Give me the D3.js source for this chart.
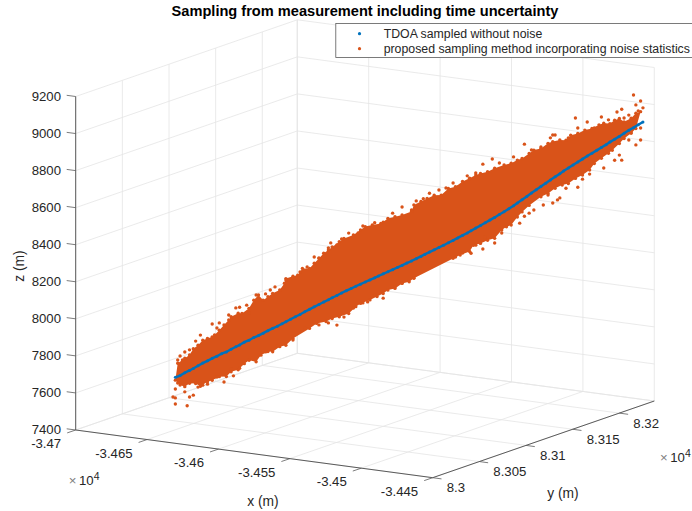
<!DOCTYPE html>
<html>
<head>
<meta charset="utf-8">
<script src="https://cdn.jsdelivr.net/npm/d3@7"></script>
<style>
  html, body { margin: 0; padding: 0; background: #fff; overflow: hidden; }
  text { font-family: "Liberation Sans", Helvetica, Arial, sans-serif; fill: #262626; }
</style>
</head>
<body>
<svg id="chart" width="692" height="511"></svg>
<script>
const xLim = [-34700, -34450];
const yLim = [83000, 83237.5];
const zLim = [7400, 9200];

const xTicks = [-34700, -34650, -34600, -34550, -34500, -34450];
const yTicks = [83000, 83050, 83100, 83150, 83200];
const zTicks = [7400, 7600, 7800, 8000, 8200, 8400, 8600, 8800, 9000, 9200];
const xTickLabels = ['-3.47', '-3.465', '-3.46', '-3.455', '-3.45', '-3.445'];
const yTickLabels = ['8.3', '8.305', '8.31', '8.315', '8.32'];
const seriesNames = ['TDOA sampled without noise', 'proposed sampling method incorporating noise statistics'];

// blue track
const tdoaX = [-34657,-34655,-34653,-34651,-34649,-34647,-34645,-34643,-34641,-34639,-34637,-34635,-34633,-34631,-34629,-34627,-34625,-34623,-34621,-34619,-34617,-34615,-34613,-34611,-34609,-34607,-34605,-34603,-34601,-34599,-34597,-34595,-34593,-34591,-34589,-34587,-34585,-34583,-34581,-34579,-34577,-34575,-34573,-34571,-34569,-34567,-34565,-34563,-34561,-34559,-34557,-34555,-34553,-34551,-34549,-34547,-34545,-34543,-34541,-34539,-34537,-34535,-34533,-34531,-34529,-34527,-34525,-34523,-34521,-34519,-34517,-34515,-34513,-34511,-34509,-34507,-34505,-34503,-34501,-34499,-34497,-34495,-34493,-34491,-34489,-34487,-34485,-34483,-34481,-34479,-34477,-34475,-34473,-34471,-34469,-34467,-34465,-34463,-34461,-34459,-34457,-34455];
const tdoaY = [83041,83043,83045,83047,83048,83050,83052,83054,83056,83058,83060,83062,83064,83066,83067,83069,83071,83073,83075,83077,83079,83081,83083,83085,83086,83088,83090,83092,83094,83096,83098,83100,83102,83104,83105,83107,83109,83111,83113,83115,83117,83119,83121,83123,83124,83126,83128,83130,83132,83134,83136,83138,83140,83142,83143,83145,83147,83149,83151,83153,83155,83157,83159,83161,83162,83164,83166,83168,83170,83172,83174,83176,83178,83180,83181,83183,83185,83187,83189,83191,83193,83195,83197,83199,83200,83202,83204,83206,83208,83210,83212,83214,83216,83218,83219,83221,83223,83225,83227,83229,83231,83233];
const tdoaZ = [7657,7665,7679,7690,7701,7714,7727,7738,7750,7760,7772,7780,7793,7805,7815,7829,7838,7851,7860,7872,7884,7895,7905,7917,7928,7940,7952,7963,7976,7988,8000,8011,8023,8034,8045,8056,8068,8079,8089,8100,8110,8120,8130,8140,8150,8160,8170,8180,8190,8200,8211,8221,8232,8243,8254,8265,8276,8287,8298,8310,8321,8333,8345,8357,8369,8382,8395,8408,8421,8434,8448,8462,8476,8491,8506,8522,8539,8556,8572,8588,8604,8620,8636,8651,8666,8681,8696,8711,8725,8740,8754,8768,8782,8796,8810,8824,8838,8853,8868,8881,8895,8909];

// orange cloud is too dense to read single samples: its rough upper and lower rim instead
const rimTopX = [
  -34656,-34654,-34653,-34651,-34649,-34647,-34645,-34643,-34641,-34640,-34638,-34636,-34634,-34633,-34630,-34628,-34625,-34623,-34621,-34619,-34617,-34615,-34612,-34610,
  -34609,-34606,-34604,-34602,-34599,-34597,-34595,-34593,-34591,-34589,-34586,-34584,-34580,-34577,-34575,-34572,-34568,-34565,-34562,-34559,-34555,
  -34554,-34551,-34548,-34545,-34542,-34539,-34536,-34533,-34530,-34527,-34525,-34522,-34519,-34515,-34512,-34509,-34507,-34504,
  -34502,-34499,-34496,-34494,-34491,-34488,-34486,-34483,-34480,-34477,-34474,-34472,-34469,-34467,-34465,-34463,-34460,-34458,-34456];
const rimTopY = [
  83042,83044,83045,83047,83048,83050,83052,83054,83056,83057,83059,83061,83063,83064,83067,83068,83071,83073,83075,83077,83079,83081,83084,83086,
  83086,83089,83091,83093,83096,83098,83100,83102,83104,83105,83108,83110,83114,83117,83119,83122,83125,83128,83131,83134,83138,
  83139,83142,83144,83147,83150,83153,83156,83159,83162,83164,83166,83169,83172,83176,83179,83181,83183,83186,
  83188,83191,83194,83196,83199,83201,83203,83206,83209,83212,83215,83217,83219,83221,83223,83225,83228,83230,83232];
const rimTopZ = [
  7732,7749,7757,7773,7808,7825,7851,7859,7866,7875,7900,7926,7952,7969,7986,7984,8010,8053,8079,8050,8067,8084,8100,8135,
  8161,8172,8176,8211,8209,8235,8260,8286,8303,8319,8345,8361,8377,8402,8419,8426,8433,8458,8465,8472,8488,
  8523,8539,8555,8571,8569,8603,8610,8636,8652,8668,8675,8682,8699,8714,8721,8738,8745,8770,
  8787,8794,8819,8827,8834,8832,8858,8865,8881,8888,8905,8912,8910,8927,8935,8915,8932,8958,8965];
const rimBottomX = [
  -34657,-34655,-34653,-34651,-34648,-34646,-34643,-34641,-34638,-34635,-34633,-34630,-34627,-34625,-34622,-34620,-34617,-34615,-34612,-34609,-34606,
  -34599,-34596,-34592,-34589,-34586,-34582,-34579,-34577,-34573,-34570,-34567,-34565,-34562,-34559,-34556,-34554,
  -34537,-34534,-34530,-34528,-34525,-34522,-34519,-34516,-34514,-34512,-34509,-34507,-34504,
  -34499,-34496,-34493,-34490,-34487,-34484,-34481,-34478,-34476,-34473,-34470,-34468,-34465,-34463,-34460,-34458];
const rimBottomY = [
  83041,83043,83045,83047,83049,83051,83054,83056,83059,83062,83064,83067,83069,83071,83074,83076,83079,83081,83084,83086,83089,
  83096,83099,83103,83105,83108,83112,83115,83117,83121,83124,83126,83128,83131,83134,83137,83139,
  83155,83158,83162,83163,83166,83169,83172,83175,83177,83179,83181,83183,83186,
  83191,83194,83197,83200,83202,83205,83208,83211,83213,83216,83219,83220,83223,83225,83228,83230];
const rimBottomZ = [
  7642,7614,7604,7621,7619,7603,7625,7632,7649,7647,7672,7680,7713,7730,7720,7754,7771,7769,7794,7801,7835,
  7885,7910,7917,7933,7940,7955,7990,8006,8022,8038,8054,8071,8078,8103,8110,8127,
  8224,8240,8256,8290,8298,8313,8321,8364,8380,8388,8431,8457,8490,
  8533,8549,8574,8590,8598,8623,8639,8664,8698,8724,8749,8765,8800,8825,8851,8876];

// orange samples that stand clear of the cloud
const cloudX = [
  -34657,-34652,-34657,-34658,-34651,-34649,-34653,-34657,-34656,-34647,-34643,-34645,-34636,-34632,-34639,-34629,-34633,-34618,-34613,-34606,
  -34656,-34655,-34653,-34651,-34648,-34646,-34641,-34638,-34639,-34631,-34629,-34634,-34626,-34622,-34618,-34614,-34616,-34625,
  -34609,-34606,-34603,-34600,-34597,-34595,-34590,-34591,-34587,-34585,-34582,-34578,-34576,-34571,-34559,-34563,-34555,-34567,
  -34587,-34595,-34601,-34584,-34580,-34576,-34574,-34567,-34571,-34562,-34559,-34554,-34591,
  -34506,-34511,-34520,-34517,-34524,-34531,-34527,-34522,-34537,-34543,-34547,-34540,-34553,-34550,-34535,-34530,
  -34502,-34506,-34508,-34516,-34519,-34524,-34523,-34529,-34533,-34536,-34527,
  -34459,-34456,-34458,-34484,-34466,-34464,-34473,-34470,-34455,-34457,-34483,-34479,-34494,-34493,-34495,-34487,-34499,-34503,-34476,-34463,-34461,
  -34456,-34458,-34460,-34461,-34465,-34464,-34467,-34472,-34478,-34481,-34483,-34488,-34492,-34494,-34491,-34498,-34504,-34496,-34456];
const cloudY = [
  83041,83046,83041,83040,83047,83048,83045,83041,83042,83050,83054,83052,83061,83065,83058,83067,83064,83078,83083,83089,
  83042,83043,83045,83047,83049,83051,83056,83059,83058,83066,83067,83063,83070,83074,83078,83082,83080,83071,
  83086,83089,83092,83095,83098,83100,83105,83104,83107,83109,83112,83116,83118,83123,83134,83130,83138,83126,
  83107,83100,83094,83110,83114,83118,83120,83126,83123,83131,83134,83139,83104,
  83184,83180,83171,83174,83167,83161,83164,83169,83155,83149,83145,83152,83140,83143,83157,83162,
  83188,83184,83182,83175,83172,83167,83168,83162,83159,83156,83164,
  83229,83232,83230,83205,83222,83224,83216,83219,83233,83231,83206,83210,83196,83197,83195,83202,83191,83187,83213,83225,83227,
  83232,83230,83228,83227,83223,83224,83221,83217,83211,83208,83206,83201,83198,83196,83199,83192,83186,83194,83232];
const cloudZ = [
  7513,7500,7546,7552,7547,7557,7576,7594,7626,7599,7612,7608,7619,7649,7648,7690,7687,7770,7799,7827,
  7750,7771,7791,7801,7848,7879,7935,7939,7912,8015,8019,7979,8028,8080,8083,8118,8103,7985,
  8153,8161,8192,8217,8269,8263,8340,8314,8328,8359,8389,8387,8423,8437,8515,8485,8496,8439,
  7896,7901,7888,7937,7983,8008,8012,8029,8048,8085,8105,8129,7909,
  8822,8755,8750,8726,8725,8665,8679,8681,8631,8597,8583,8606,8544,8553,8608,8648,
  8464,8433,8397,8348,8296,8267,8331,8248,8250,8231,8290,
  9057,9023,9003,8949,8970,8984,8947,8929,8985,8970,8894,8924,8863,8862,8848,8843,8802,8788,8889,8936,8950,
  8812,8787,8858,8816,8737,8709,8711,8671,8642,8617,8575,8573,8511,8496,8521,8488,8448,8540,8877];

const blue = '#0072BD', orange = '#D95319', gridColor = '#e4e4e4', axisColor = '#5a5a5a';

// box corners in the picture, the view is orthographic
const origin = [75.7, 430];
const xVec = [357, 47.7];
const yVec = [221.6, -76.7];
const zVec = [0, -333.5];

const xScale = d3.scaleLinear().domain(xLim).range([0, 1]);
const yScale = d3.scaleLinear().domain(yLim).range([0, 1]);
const zScale = d3.scaleLinear().domain(zLim).range([0, 1]);

function project(x, y, z) {
  const u = xScale(x), v = yScale(y), w = zScale(z);
  return [origin[0] + u * xVec[0] + v * yVec[0] + w * zVec[0],
          origin[1] + u * xVec[1] + v * yVec[1] + w * zVec[1]];
}

const svg = d3.select('#chart');
const gridG = svg.append('g').attr('fill', 'none').attr('stroke', gridColor).attr('stroke-width', 0.8);

function segment(g, a, b, color, width) {
  const line = g.append('line')
    .attr('x1', a[0]).attr('y1', a[1])
    .attr('x2', b[0]).attr('y2', b[1]);
  if (color) line.attr('stroke', color).attr('stroke-width', width);
}

// grid on floor and the two back walls
xTicks.forEach(x => {
  segment(gridG, project(x, yLim[0], zLim[0]), project(x, yLim[1], zLim[0]));
  segment(gridG, project(x, yLim[1], zLim[0]), project(x, yLim[1], zLim[1]));
});
yTicks.concat([yLim[1]]).forEach(y => {
  segment(gridG, project(xLim[0], y, zLim[0]), project(xLim[1], y, zLim[0]));
  segment(gridG, project(xLim[0], y, zLim[0]), project(xLim[0], y, zLim[1]));
});
zTicks.forEach(z => {
  segment(gridG, project(xLim[0], yLim[0], z), project(xLim[0], yLim[1], z));
  segment(gridG, project(xLim[0], yLim[1], z), project(xLim[1], yLim[1], z));
});

// axes and ticks
const axisG = svg.append('g');
segment(axisG, project(xLim[0], yLim[0], zLim[0]), project(xLim[0], yLim[0], zLim[1]), axisColor, 1);
segment(axisG, project(xLim[0], yLim[0], zLim[0]), project(xLim[1], yLim[0], zLim[0]), axisColor, 1);
segment(axisG, project(xLim[1], yLim[0], zLim[0]), project(xLim[1], yLim[1], zLim[0]), axisColor, 1);

xTicks.forEach((x, i) => {
  const p = project(x, yLim[0], zLim[0]);
  segment(axisG, p, [p[0] - 8.5, p[1] + 2.9], axisColor, 0.8);
  axisG.append('text').attr('x', p[0] - 14.5).attr('y', p[1] + 13.5)
    .attr('text-anchor', 'end').attr('dominant-baseline', 'central')
    .attr('font-size', 13.2).text(xTickLabels[i]);
});
yTicks.forEach((y, i) => {
  const p = project(xLim[1], y, zLim[0]);
  segment(axisG, p, [p[0] + 8.8, p[1] + 1.2], axisColor, 0.8);
  axisG.append('text').attr('x', p[0] + 14).attr('y', p[1] + 10)
    .attr('dominant-baseline', 'central')
    .attr('font-size', 13.2).text(yTickLabels[i]);
});
zTicks.forEach(z => {
  const p = project(xLim[0], yLim[0], z);
  segment(axisG, p, [p[0] - 9, p[1] - 1.2], axisColor, 0.8);
  axisG.append('text').attr('x', p[0] - 14.7).attr('y', p[1] - 0.5)
    .attr('text-anchor', 'end').attr('dominant-baseline', 'central')
    .attr('font-size', 13.2).text(z);
});

// exponent notes
function exponent(x, y) {
  const t = svg.append('text').attr('x', x).attr('y', y).attr('font-size', 13.2);
  t.append('tspan').style('fill', '#808080').text('×');
  t.append('tspan').attr('dx', 2.5).text('10');
  t.append('tspan').attr('font-size', 10.5).attr('dy', -5).text('4');
}
exponent(68.8, 484.5);
exponent(660, 462);

svg.append('text').attr('x', 263).attr('y', 501).attr('text-anchor', 'middle')
  .attr('dominant-baseline', 'central').attr('font-size', 13.8).text('x (m)');
svg.append('text').attr('x', 563).attr('y', 493).attr('text-anchor', 'middle')
  .attr('dominant-baseline', 'central').attr('font-size', 13.8).text('y (m)');
svg.append('text').attr('transform', 'translate(19,266) rotate(-90)').attr('text-anchor', 'middle')
  .attr('dominant-baseline', 'central').attr('font-size', 13.8).text('z (m)');

// orange cloud body, top rim out and bottom rim back
const bandPts = rimTopX.map((x, i) => project(x, rimTopY[i], rimTopZ[i]))
  .concat(rimBottomX.map((x, i) => project(x, rimBottomY[i], rimBottomZ[i])).reverse());
svg.append('path')
  .attr('d', d3.line()(bandPts) + 'Z')
  .attr('fill', orange);

function dots(xs, ys, zs, r, color) {
  svg.append('g').selectAll('circle')
    .data(xs)
    .join('circle')
      .attr('cx', (d, i) => project(d, ys[i], zs[i])[0])
      .attr('cy', (d, i) => project(d, ys[i], zs[i])[1])
      .attr('r', r)
      .attr('fill', color);
}
dots(rimTopX, rimTopY, rimTopZ, 1.7, orange);
dots(rimBottomX, rimBottomY, rimBottomZ, 1.7, orange);
dots(cloudX, cloudY, cloudZ, 1.7, orange);

// blue samples sit so close they close up into a rough line
svg.append('path')
  .attr('d', d3.line()(tdoaX.map((x, i) => project(x, tdoaY[i], tdoaZ[i]))))
  .attr('fill', 'none').attr('stroke', blue).attr('stroke-width', 2.4);
dots(tdoaX, tdoaY, tdoaZ, 1.5, blue);

// title
svg.append('text').attr('x', 365).attr('y', 10.5).attr('text-anchor', 'middle')
  .attr('dominant-baseline', 'central').attr('font-size', 14.6).attr('font-weight', 'bold')
  .style('fill', '#000')
  .text('Sampling from measurement including time uncertainty');

// legend runs off the right edge like the source figure
const legend = svg.append('g');
legend.append('rect').attr('x', 335.8).attr('y', 23.5).attr('width', 370).attr('height', 34)
  .attr('fill', '#fff').attr('stroke', '#5a5a5a').attr('stroke-width', 0.8);
seriesNames.forEach((name, i) => {
  const y = 33.7 + i * 15;
  legend.append('circle').attr('cx', 359.5).attr('cy', y).attr('r', 1.6)
    .attr('fill', i === 0 ? blue : orange);
  legend.append('text').attr('x', 383.7).attr('y', y).attr('dominant-baseline', 'central')
    .attr('font-size', 12.3).text(name);
});
</script>
</body>
</html>
